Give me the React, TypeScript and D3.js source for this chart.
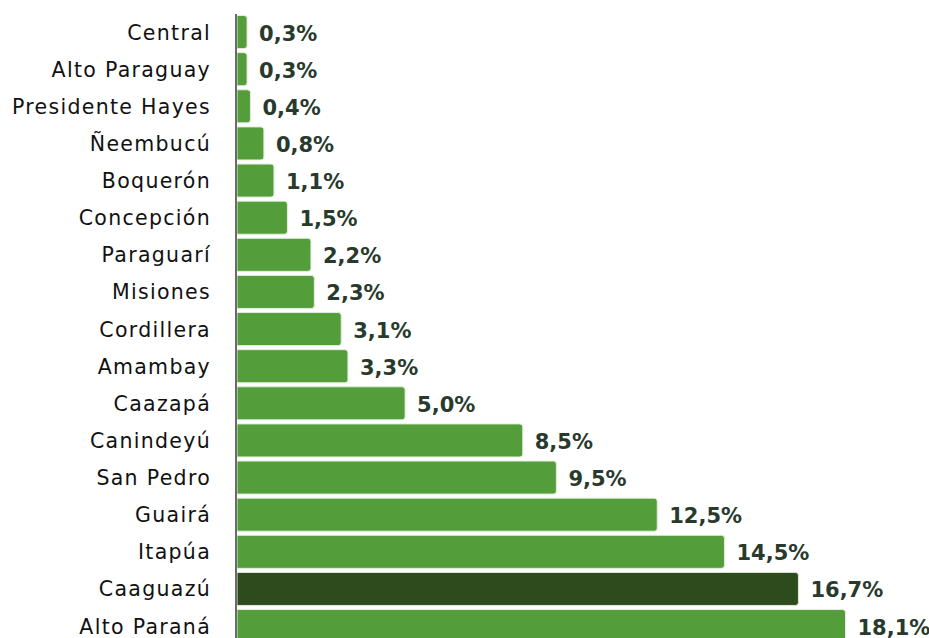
import React from "react";
import * as d3 from "d3";

const categories = ["Central","Alto Paraguay","Presidente Hayes","Ñeembucú","Boquerón","Concepción","Paraguarí","Misiones","Cordillera","Amambay","Caazapá","Canindeyú","San Pedro","Guairá","Itapúa","Caaguazú","Alto Paraná"];
const values = [0.3,0.3,0.4,0.8,1.1,1.5,2.2,2.3,3.1,3.3,5.0,8.5,9.5,12.5,14.5,16.7,18.1];
const highlighted = ["Caaguazú"];

const W = 929, H = 638;
const x0 = 237;

export default function App() {
  const x = d3.scaleLinear().domain([0, 18.1]).range([x0, 845.5]);
  const y = d3.scaleBand<string>().domain(categories).range([13.5, 13.5 + 17 * 37.125]).paddingInner(0.11).paddingOuter(0.055);
  const fmt = (v: number) => v.toFixed(1).replace(".", ",") + "%";
  const font = "'DejaVu Sans', sans-serif";
  return (
    <svg width={W} height={H} style={{ position: "absolute", left: 0, top: 0, overflow: "hidden", background: "#fff" }}>
      {categories.map((c, i) => {
        const v = values[i];
        const yy = y(c)!;
        const bw = x(v) - x0;
        const bh = y.bandwidth();
        const hl = highlighted.includes(c);
        const r = 3;
        const p = `M${x0},${yy} H${x0 + bw - r} Q${x0 + bw},${yy} ${x0 + bw},${yy + r} V${yy + bh - r} Q${x0 + bw},${yy + bh} ${x0 + bw - r},${yy + bh} H${x0} Z`;
        return (
          <g key={c}>
            <path d={p} fill={hl ? "#2d4b1d" : "#539e3a"} stroke={hl ? "#dfe8d8" : "#e3eddc"} strokeWidth={1} />
            <text x={211} y={yy + bh / 2 + 0.5} textAnchor="end" dominantBaseline="central" fontFamily={font} fontSize={20.5} letterSpacing={1.3} fill="#111">{c}</text>
            <text x={x(v) + 12} y={yy + bh / 2 + 1.5} dominantBaseline="central" fontFamily={font} fontSize={21} fontWeight={700} fill="#283a2c">{fmt(v)}</text>
          </g>
        );
      })}
      <line x1={236} x2={236} y1={14} y2={H} stroke="#6b6b6b" strokeWidth={2} />
    </svg>
  );
}
